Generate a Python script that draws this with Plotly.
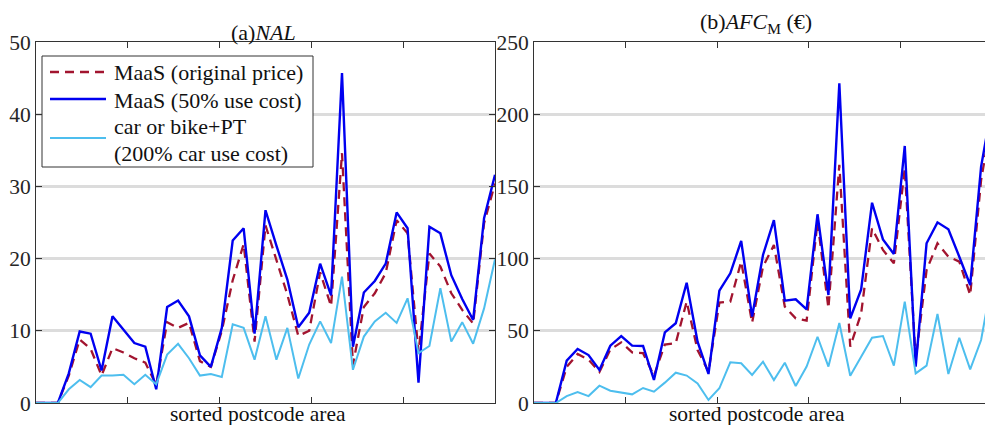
import plotly.graph_objects as go

# ---------------- data ----------------
idx = list(range(43))  # sorted postcode areas

nal_maas_orig = [0, 0, 0, 3.8, 8.8, 7.5, 3.8, 7.6, 7.0, 6.2, 5.6, 2.5, 11.2,
                 10.4, 11.1, 5.8, 5.0, 10.0, 17.0, 22.0, 8.5, 24.6, 19.8,
                 15.0, 9.3, 10.0, 18.1, 13.4, 34.6, 5.3, 13.3, 15.2, 18.0,
                 25.3, 23.5, 7.0, 20.7, 18.9, 15.2, 12.9, 11.0, 24.9, 30.4]
nal_maas_50 = [0, 0, 0, 4.1, 9.9, 9.6, 4.5, 12.0, 10.1, 8.3, 7.8, 1.9, 13.3,
               14.2, 12.0, 6.6, 5.0, 10.4, 22.5, 24.2, 9.6, 26.7, 21.8,
               17.1, 10.5, 12.5, 19.3, 14.9, 45.7, 7.8, 15.3, 16.9, 19.3,
               26.4, 24.2, 2.8, 24.4, 23.5, 17.7, 14.4, 11.5, 25.6, 31.6]
nal_car_pt = [0, 0, 0, 1.9, 3.2, 2.2, 3.8, 3.8, 3.9, 2.6, 3.9, 2.6, 6.7,
              8.2, 6.2, 3.8, 4.0, 3.6, 10.9, 10.4, 6.0, 12.0, 6.0,
              10.4, 3.4, 8.1, 11.3, 8.3, 17.5, 4.6, 9.2, 11.3, 12.5,
              11.1, 14.5, 6.9, 7.9, 15.9, 8.5, 11.2, 8.2, 13.1, 19.9]

afc_maas_orig = [0, 0, 0, 25, 34, 30, 21.5, 37, 42, 35, 34.5, 19, 40.5,
                 41.5, 70.2, 36.7, 21.7, 69.5, 70.2, 97.9, 55.6, 94.4, 109.4,
                 66.7, 58.6, 57.0, 125.6, 65.6, 165, 39, 62, 121, 106,
                 96.7, 162.5, 30, 92, 110.6, 101.3, 97.9, 74.8, 154.4, 198.3]
afc_maas_50 = [0, 0, 0, 29.3, 37.4, 33.2, 22.9, 39.7, 46.4, 39.7, 39.5, 16, 48.9,
               55.2, 83.3, 42.5, 20.1, 77.8, 89.8, 112.2, 59.8, 102.5, 126.7,
               70.9, 71.8, 64.9, 130.7, 74.8, 221.4, 58.6, 78.7, 138.7, 113.3,
               103.2, 178, 25.2, 110.6, 125.1, 120.3, 101.3, 81.7, 163.7, 206.4]
afc_car_pt = [0, 0, 0, 4.8, 7.6, 4.8, 12.0, 8.5, 7.2, 6.0, 10.4, 7.8, 14.1,
              21.0, 19.0, 13.6, 2.1, 10.2, 28.2, 27.5, 19.4, 28.6, 15.9,
              27.9, 11.8, 25.2, 45.9, 25.2, 55.4, 18.9, 32.1, 45.2, 46.4,
              25.9, 70.2, 20.5, 25.9, 61.6, 20.1, 45.2, 23.3, 43.6, 85.6]

series_names = ["MaaS (original price)", "MaaS (50% use cost)",
                "car or bike+PT (200% car use cost)"]
legend_lines = ["MaaS (original price)", "MaaS (50% use cost)",
                "car or bike+PT", "(200% car use cost)"]
panel_titles = ["(a)<i>NAL</i>", "(b)<i>AFC</i><sub>M</sub> (€)"]
x_title = "sorted postcode area"
x_tick_pos = [8.4, 16.8, 25.2, 33.6]

# ---------------- styling ----------------
FONT = "Liberation Serif, Times New Roman, serif"
RED = "#A2142F"
BLUE = "#0000F0"
LIGHT = "#4DBEEE"
AX = "#333333"
GRID = "#DCDCDC"
TXT = "#111111"
RED_DASH = "9px,6px"

# page is offset by the 8px body margin; keep the page free of scrolling
OFF = 8
W, H = 993 - OFF, 433 - 2 * OFF
ml, mr, mt = 36 - OFF, 1, 42 - OFF
mb = H - (403 - OFF)
pw = W - ml - mr
ph = H - mt - mb


def px(xp):
    return (xp - OFF - ml) / pw


def py(yp):
    return 1 - (yp - OFF - mt) / ph


d1 = [px(36), px(495)]
d2 = [px(534), 1.0]

fig = go.Figure()
panels = [
    (nal_maas_orig, nal_maas_50, nal_car_pt, "x", "y"),
    (afc_maas_orig, afc_maas_50, afc_car_pt, "x2", "y2"),
]
for orig, half, car, xa, ya in panels:
    fig.add_trace(go.Scatter(x=idx, y=orig, mode="lines", name=series_names[0],
                             line=dict(color=RED, width=2.3, dash=RED_DASH),
                             xaxis=xa, yaxis=ya, showlegend=False))
    fig.add_trace(go.Scatter(x=idx, y=half, mode="lines", name=series_names[1],
                             line=dict(color=BLUE, width=2.4),
                             xaxis=xa, yaxis=ya, showlegend=False))
    fig.add_trace(go.Scatter(x=idx, y=car, mode="lines", name=series_names[2],
                             line=dict(color=LIGHT, width=2),
                             xaxis=xa, yaxis=ya, showlegend=False))

xcommon = dict(range=[0, 42], tickvals=x_tick_pos, showticklabels=False,
               ticks="inside", ticklen=6, tickcolor=AX, showgrid=False,
               zeroline=False, showline=True, linecolor=AX, linewidth=1,
               mirror="ticks")
ycommon = dict(ticks="inside", ticklen=6, tickcolor=AX, showgrid=True,
               gridcolor=GRID, gridwidth=2.5, zeroline=False, showline=True,
               linecolor=AX, linewidth=1, mirror="ticks",
               tickfont=dict(family=FONT, size=21.5, color="#262626"))

fig.update_layout(
    width=W, height=H,
    margin=dict(l=ml, r=mr, t=mt, b=mb),
    paper_bgcolor="white", plot_bgcolor="white",
    font=dict(family=FONT, size=21, color=TXT),
    xaxis=dict(domain=d1, anchor="y", **xcommon),
    xaxis2=dict(domain=d2, anchor="y2", **xcommon),
    yaxis=dict(domain=[0, 1], anchor="x", range=[0, 50], dtick=10, **ycommon),
    yaxis2=dict(domain=[0, 1], anchor="x2", range=[0, 250], dtick=50, **ycommon),
    showlegend=False,
)

# panel titles and x-axis titles
title_pos = [(263, 32), (756, 23)]
for (tx, ty), t in zip(title_pos, panel_titles):
    fig.add_annotation(text=t, x=px(tx), y=py(ty), xref="paper", yref="paper",
                       showarrow=False, xanchor="center", yanchor="middle",
                       font=dict(family=FONT, size=22, color=TXT))
for cx in (258, 757):
    fig.add_annotation(text=x_title, x=px(cx), y=py(414), xref="paper",
                       yref="paper", showarrow=False, xanchor="center",
                       yanchor="middle", font=dict(family=FONT, size=21.5, color=TXT))

# legend box (drawn inside left panel)
fig.add_shape(type="rect", xref="paper", yref="paper",
              x0=px(42), x1=px(313), y0=py(167), y1=py(56),
              line=dict(color=AX, width=1), fillcolor="white", layer="above")
sample_styles = [(RED, RED_DASH, 72, 2.3), (BLUE, "solid", 99, 2.4), (LIGHT, "solid", 138, 2)]
for col, dash, yy, lw in sample_styles:
    fig.add_shape(type="line", xref="paper", yref="paper",
                  x0=px(50), x1=px(106), y0=py(yy), y1=py(yy),
                  line=dict(color=col, width=lw, dash=dash), layer="above")
for txt, yy in zip(legend_lines, (73, 100, 127, 153)):
    fig.add_annotation(text=txt, x=px(112), y=py(yy), xref="paper", yref="paper",
                       showarrow=False, xanchor="left", yanchor="middle",
                       font=dict(family=FONT, size=22, color=TXT))

fig.write_html("out.html")
